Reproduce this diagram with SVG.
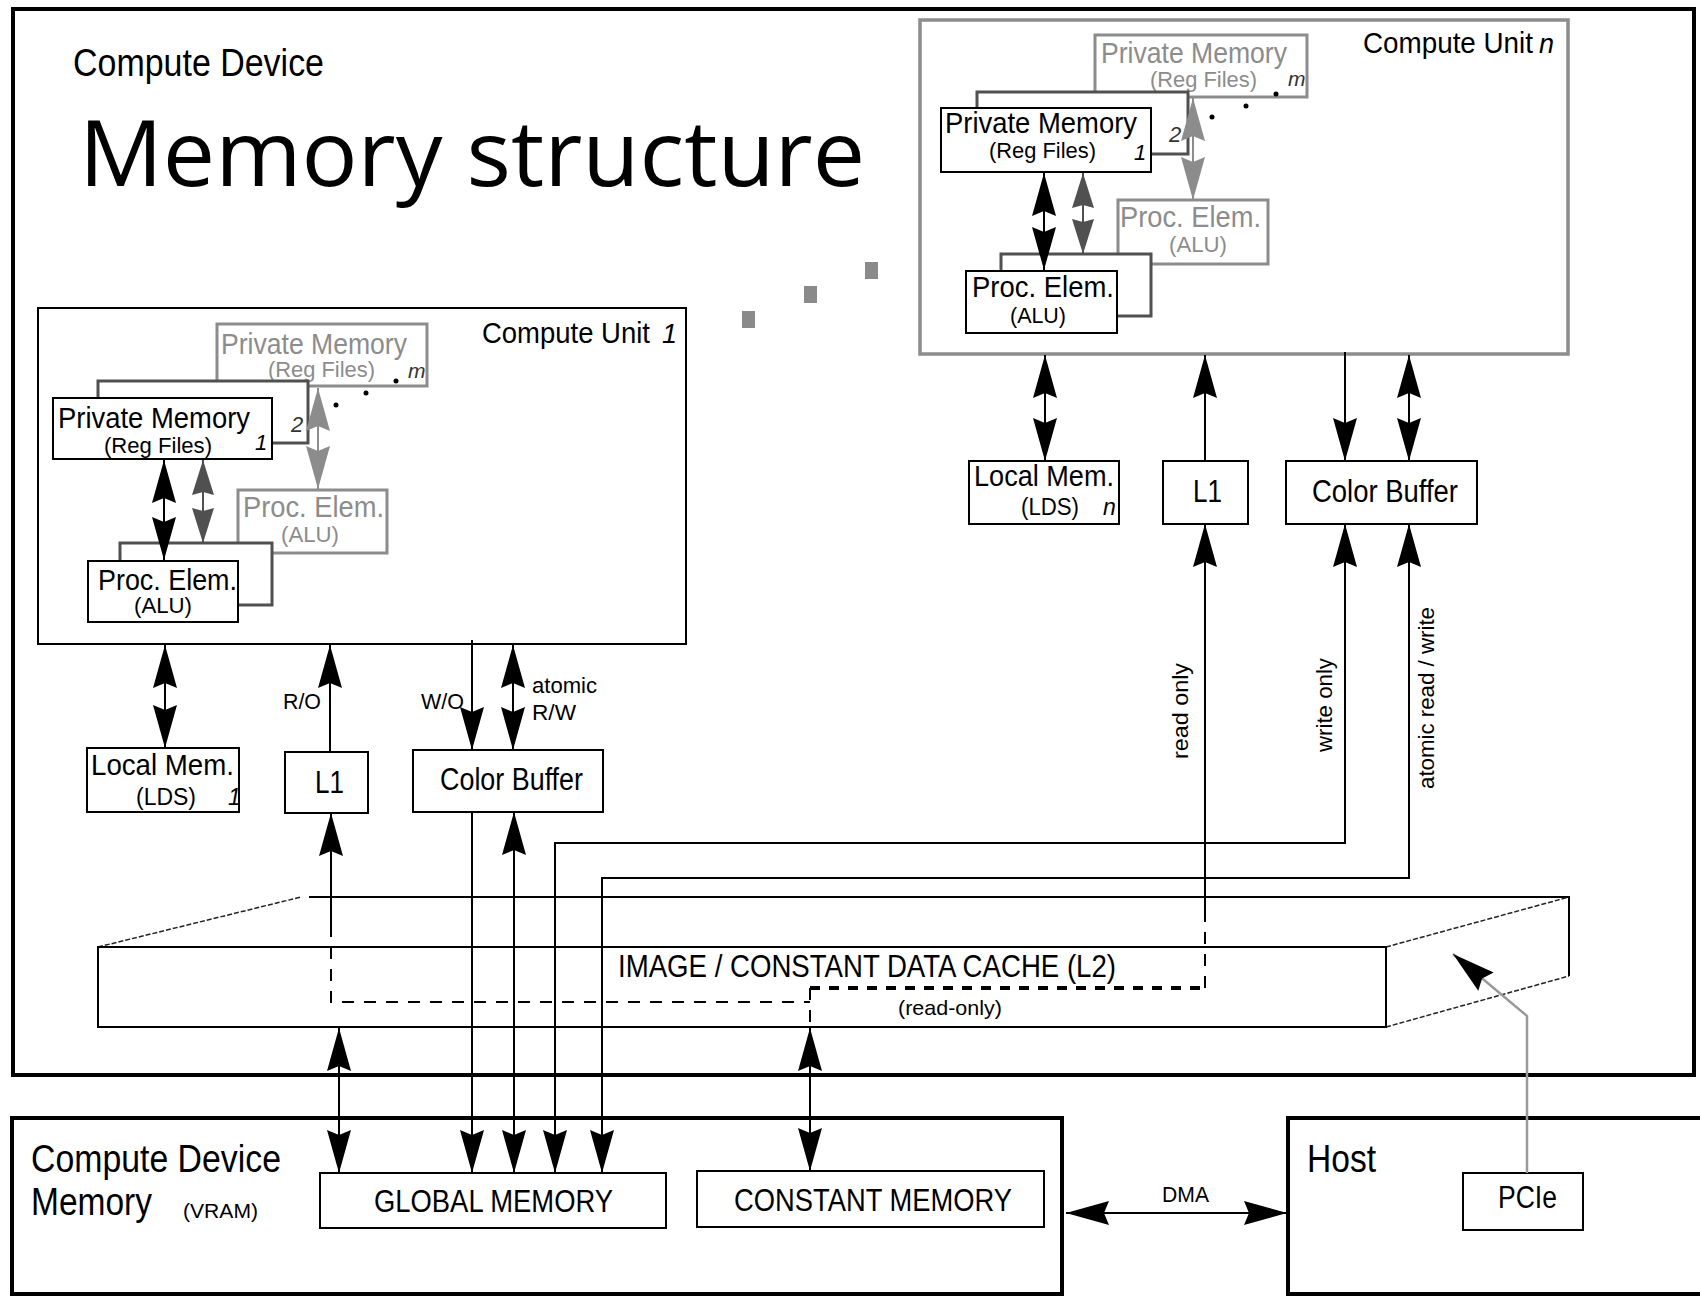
<svg xmlns="http://www.w3.org/2000/svg" width="1700" height="1297" viewBox="0 0 1700 1297">
<defs>
<style>
.t{font-family:"Liberation Sans",Arial,sans-serif;fill:#000}
.i{font-style:italic}
.g{fill:#8c8c8c}
.dk{fill:#333}
.frame{fill:none;stroke:#000;stroke-width:4}
.box{fill:#fff;stroke:#000;stroke-width:2}
.gbox{fill:#fff;stroke:#8c8c8c;stroke-width:3}
.dbox{fill:#fff;stroke:#505050;stroke-width:3}
.ln{fill:none;stroke:#000;stroke-width:2}
.lnd{fill:none;stroke:#505050;stroke-width:2}
.lng{fill:none;stroke:#8c8c8c;stroke-width:2}
.dash{fill:none;stroke:#000;stroke-width:2;stroke-dasharray:12 10}
.tdash{fill:none;stroke:#000;stroke-width:4;stroke-dasharray:10 9}
.fine{fill:none;stroke:#222;stroke-width:1.5;stroke-dasharray:5 2}
.gdot{fill:#8a8a8a}
</style>
<marker id="ah" markerUnits="userSpaceOnUse" viewBox="-44 -13 45 26" refX="0" refY="0" markerWidth="45" markerHeight="26" orient="auto-start-reverse"><path d="M0,0 L-43,-12 L-38,0 L-43,12 Z" fill="#000"/></marker>
<marker id="ahd" markerUnits="userSpaceOnUse" viewBox="-44 -13 45 26" refX="0" refY="0" markerWidth="45" markerHeight="26" orient="auto-start-reverse"><path d="M0,0 L-35,-11 L-32,0 L-35,11 Z" fill="#505050"/></marker>
<marker id="ahg" markerUnits="userSpaceOnUse" viewBox="-44 -13 45 26" refX="0" refY="0" markerWidth="45" markerHeight="26" orient="auto-start-reverse"><path d="M0,0 L-43,-12 L-38,0 L-43,12 Z" fill="#8c8c8c"/></marker>
</defs>
<rect width="1700" height="1297" fill="#fff"/>

<g id="compute-device">
<rect class="frame" x="13" y="9" width="1681" height="1066"/>
<text class="t" x="73" y="76" font-size="38" textLength="251" lengthAdjust="spacingAndGlyphs">Compute Device</text>
<text x="79" y="186" font-family="'Open Sans','Noto Sans',sans-serif" font-size="92" textLength="786" lengthAdjust="spacingAndGlyphs" fill="#000">Memory structure</text>
</g>

<g id="unit-dots">
<rect class="gdot" x="742" y="311" width="13" height="17"/>
<rect class="gdot" x="804" y="286" width="13" height="17"/>
<rect class="gdot" x="865" y="262" width="13" height="17"/>
</g>

<g id="l2-cache">
<path class="fine" d="M98,947 L301,897"/>
<path class="ln" d="M309,897 H1569 V976"/>
<path class="fine" d="M1386,947 L1569,897 M1386,1027 L1569,976"/>
<rect class="box" x="98" y="947" width="1288" height="80" fill="none"/>
<text class="t" x="618" y="977" font-size="31" textLength="498" lengthAdjust="spacingAndGlyphs">IMAGE / CONSTANT DATA CACHE (L2)</text>
<text class="t" x="898" y="1015" font-size="21" textLength="104" lengthAdjust="spacingAndGlyphs">(read-only)</text>
</g>

<g id="compute-unit-1">
<rect class="box" x="38" y="308" width="648" height="336" fill="none"/>
<text class="t" x="482" y="343" font-size="29" textLength="168" lengthAdjust="spacingAndGlyphs">Compute Unit</text>
<text class="t i" x="662" y="343" font-size="27">1</text>
<g id="cu1-private-memory-m">
<rect class="gbox" x="217" y="324" width="210" height="62"/>
<text class="t g" x="221" y="354" font-size="29" textLength="186" lengthAdjust="spacingAndGlyphs">Private Memory</text>
<text class="t g" x="268" y="377" font-size="22" textLength="107" lengthAdjust="spacingAndGlyphs">(Reg Files)</text>
<text class="t i dk" x="408" y="378" font-size="21">m</text>
</g>
<g id="cu1-private-memory-2">
<rect class="dbox" x="98" y="381" width="210" height="62"/>
<text class="t i dk" x="291" y="432" font-size="22">2</text>
</g>
<g id="cu1-private-memory-1">
<rect class="box" x="53" y="398" width="219" height="61"/>
<text class="t" x="58" y="428" font-size="29" textLength="192" lengthAdjust="spacingAndGlyphs">Private Memory</text>
<text class="t" x="104" y="453" font-size="22" textLength="108" lengthAdjust="spacingAndGlyphs">(Reg Files)</text>
<text class="t i" x="255" y="450" font-size="22">1</text>
</g>
<circle cx="336" cy="405" r="2.5"/>
<circle cx="366" cy="393" r="2.5"/>
<circle cx="396" cy="381" r="2.5"/>
<g id="cu1-proc-elem-m">
<rect class="gbox" x="238" y="490" width="149" height="63"/>
<text class="t g" x="243" y="517" font-size="29" textLength="141" lengthAdjust="spacingAndGlyphs">Proc. Elem.</text>
<text class="t g" x="281" y="542" font-size="22" textLength="58" lengthAdjust="spacingAndGlyphs">(ALU)</text>
</g>
<g id="cu1-proc-elem-2">
<rect class="dbox" x="120" y="543" width="152" height="62"/>
</g>
<g id="cu1-proc-elem-1">
<rect class="box" x="88" y="561" width="150" height="61"/>
<text class="t" x="98" y="590" font-size="29" textLength="139" lengthAdjust="spacingAndGlyphs">Proc. Elem.</text>
<text class="t" x="134" y="613" font-size="22" textLength="58" lengthAdjust="spacingAndGlyphs">(ALU)</text>
</g>
</g>

<g id="compute-unit-n">
<rect x="920" y="20" width="648" height="334" fill="none" stroke="#8c8c8c" stroke-width="3.5"/>
<text class="t" x="1363" y="53" font-size="29" textLength="170" lengthAdjust="spacingAndGlyphs">Compute Unit</text>
<text class="t i" x="1539" y="53" font-size="27">n</text>
<g id="cun-private-memory-m">
<rect class="gbox" x="1095" y="35" width="212" height="62"/>
<text class="t g" x="1101" y="63" font-size="29" textLength="186" lengthAdjust="spacingAndGlyphs">Private Memory</text>
<text class="t g" x="1150" y="87" font-size="22" textLength="107" lengthAdjust="spacingAndGlyphs">(Reg Files)</text>
<text class="t i dk" x="1288" y="86" font-size="21">m</text>
</g>
<g id="cun-private-memory-2">
<rect class="dbox" x="977" y="92" width="211" height="62"/>
<text class="t i dk" x="1169" y="142" font-size="22">2</text>
</g>
<g id="cun-private-memory-1">
<rect class="box" x="941" y="108" width="210" height="64"/>
<text class="t" x="945" y="133" font-size="29" textLength="192" lengthAdjust="spacingAndGlyphs">Private Memory</text>
<text class="t" x="989" y="158" font-size="22" textLength="107" lengthAdjust="spacingAndGlyphs">(Reg Files)</text>
<text class="t i" x="1134" y="160" font-size="22">1</text>
</g>
<circle cx="1212" cy="117" r="2.5"/>
<circle cx="1246" cy="106" r="2.5"/>
<circle cx="1276" cy="94" r="2.5"/>
<g id="cun-proc-elem-m">
<rect class="gbox" x="1118" y="200" width="150" height="64"/>
<text class="t g" x="1120" y="227" font-size="29" textLength="141" lengthAdjust="spacingAndGlyphs">Proc. Elem.</text>
<text class="t g" x="1169" y="252" font-size="22" textLength="58" lengthAdjust="spacingAndGlyphs">(ALU)</text>
</g>
<g id="cun-proc-elem-2">
<rect class="dbox" x="1001" y="254" width="150" height="62"/>
</g>
<g id="cun-proc-elem-1">
<rect class="box" x="966" y="271" width="151" height="62"/>
<text class="t" x="972" y="297" font-size="29" textLength="142" lengthAdjust="spacingAndGlyphs">Proc. Elem.</text>
<text class="t" x="1010" y="323" font-size="22" textLength="56" lengthAdjust="spacingAndGlyphs">(ALU)</text>
</g>
</g>

<g id="local-mem-1">
<rect class="box" x="87" y="748" width="152" height="64"/>
<text class="t" x="91" y="775" font-size="30" textLength="143" lengthAdjust="spacingAndGlyphs">Local Mem.</text>
<text class="t" x="136" y="805" font-size="23" textLength="60" lengthAdjust="spacingAndGlyphs">(LDS)</text>
<text class="t i" x="228" y="805" font-size="23">1</text>
</g>
<g id="l1-1">
<rect class="box" x="285" y="752" width="83" height="61"/>
<text class="t" x="315" y="793" font-size="31" textLength="29" lengthAdjust="spacingAndGlyphs">L1</text>
</g>
<g id="color-buffer-1">
<rect class="box" x="413" y="750" width="190" height="62"/>
<text class="t" x="440" y="790" font-size="31" textLength="143" lengthAdjust="spacingAndGlyphs">Color Buffer</text>
</g>
<g id="local-mem-n">
<rect class="box" x="969" y="461" width="150" height="63"/>
<text class="t" x="974" y="486" font-size="30" textLength="140" lengthAdjust="spacingAndGlyphs">Local Mem.</text>
<text class="t" x="1021" y="515" font-size="23" textLength="58" lengthAdjust="spacingAndGlyphs">(LDS)</text>
<text class="t i" x="1103" y="515" font-size="23">n</text>
</g>
<g id="l1-n">
<rect class="box" x="1163" y="461" width="85" height="63"/>
<text class="t" x="1193" y="502" font-size="31" textLength="29" lengthAdjust="spacingAndGlyphs">L1</text>
</g>
<g id="color-buffer-n">
<rect class="box" x="1286" y="461" width="191" height="63"/>
<text class="t" x="1312" y="502" font-size="31" textLength="146" lengthAdjust="spacingAndGlyphs">Color Buffer</text>
</g>

<g id="compute-device-memory">
<rect class="frame" x="12" y="1118" width="1050" height="176"/>
<text class="t" x="31" y="1172" font-size="38" textLength="250" lengthAdjust="spacingAndGlyphs">Compute Device</text>
<text class="t" x="31" y="1215" font-size="38" textLength="121" lengthAdjust="spacingAndGlyphs">Memory</text>
<text class="t" x="183" y="1218" font-size="21" textLength="75" lengthAdjust="spacingAndGlyphs">(VRAM)</text>
</g>
<g id="global-memory">
<rect class="box" x="320" y="1173" width="346" height="55"/>
<text class="t" x="374" y="1212" font-size="31" textLength="239" lengthAdjust="spacingAndGlyphs">GLOBAL MEMORY</text>
</g>
<g id="constant-memory">
<rect class="box" x="697" y="1171" width="347" height="56"/>
<text class="t" x="734" y="1211" font-size="31" textLength="278" lengthAdjust="spacingAndGlyphs">CONSTANT MEMORY</text>
</g>
<g id="host">
<rect class="frame" x="1288" y="1118" width="420" height="176"/>
<text class="t" x="1307" y="1172" font-size="38" textLength="69" lengthAdjust="spacingAndGlyphs">Host</text>
</g>
<g id="pcie">
<rect class="box" x="1463" y="1173" width="120" height="57"/>
<text class="t" x="1498" y="1208" font-size="31" textLength="59" lengthAdjust="spacingAndGlyphs">PCIe</text>
</g>

<g id="connectors">
<path class="ln" d="M164,460 V560" marker-start="url(#ah)" marker-end="url(#ah)"/>
<path class="lnd" d="M203,460 V543" marker-start="url(#ahd)" marker-end="url(#ahd)"/>
<path class="lng" d="M318,388 V489" marker-start="url(#ahg)" marker-end="url(#ahg)"/>
<path class="ln" d="M1044,173 V270" marker-start="url(#ah)" marker-end="url(#ah)"/>
<path class="lnd" d="M1083,173 V254" marker-start="url(#ahd)" marker-end="url(#ahd)"/>
<path class="lng" d="M1193,98 V200" marker-start="url(#ahg)" marker-end="url(#ahg)"/>

<path class="ln" d="M165,645 V748" marker-start="url(#ah)" marker-end="url(#ah)"/>
<path class="ln" d="M330,752 V645" marker-end="url(#ah)"/>
<path class="ln" d="M472,640 V750" marker-end="url(#ah)"/>
<path class="ln" d="M513,645 V750" marker-start="url(#ah)" marker-end="url(#ah)"/>
<text class="t" x="283" y="709" font-size="22" textLength="38" lengthAdjust="spacingAndGlyphs">R/O</text>
<text class="t" x="421" y="709" font-size="22" textLength="43" lengthAdjust="spacingAndGlyphs">W/O</text>
<text class="t" x="532" y="693" font-size="22" textLength="65" lengthAdjust="spacingAndGlyphs">atomic</text>
<text class="t" x="532" y="720" font-size="22" textLength="44" lengthAdjust="spacingAndGlyphs">R/W</text>

<path class="ln" d="M1045,355 V461" marker-start="url(#ah)" marker-end="url(#ah)"/>
<path class="ln" d="M1205,461 V355" marker-end="url(#ah)"/>
<path class="ln" d="M1345,352 V461" marker-end="url(#ah)"/>
<path class="ln" d="M1409,355 V461" marker-start="url(#ah)" marker-end="url(#ah)"/>

<path class="ln" d="M472,812 V1173" marker-end="url(#ah)"/>
<path class="ln" d="M514,812 V1173" marker-start="url(#ah)" marker-end="url(#ah)"/>
<path class="ln" d="M1345,524 V843 H555 V1173" marker-start="url(#ah)" marker-end="url(#ah)"/>
<path class="ln" d="M1409,524 V878 H602 V1173" marker-start="url(#ah)" marker-end="url(#ah)"/>
<path class="ln" d="M1205,922 V524" marker-end="url(#ah)"/>
<text class="t" transform="translate(1188,711) rotate(-90)" text-anchor="middle" font-size="22" textLength="96" lengthAdjust="spacingAndGlyphs">read only</text>
<text class="t" transform="translate(1332,705) rotate(-90)" text-anchor="middle" font-size="22" textLength="94" lengthAdjust="spacingAndGlyphs">write only</text>
<text class="t" transform="translate(1434,698) rotate(-90)" text-anchor="middle" font-size="22" textLength="182" lengthAdjust="spacingAndGlyphs">atomic read / write</text>

<path class="ln" d="M331,925 V813" marker-end="url(#ah)"/>
<path class="dash" d="M331,925 V1002 H810"/>
<path class="dash" d="M810,988 V1028"/>
<path class="tdash" d="M810,988 H1205"/>
<path class="dash" d="M1205,988 V922"/>
<path class="ln" d="M339,1028 V1173" marker-start="url(#ah)" marker-end="url(#ah)"/>
<path class="ln" d="M810,1028 V1171" marker-start="url(#ah)" marker-end="url(#ah)"/>

<path class="ln" d="M1066,1213 H1287" marker-start="url(#ah)" marker-end="url(#ah)"/>
<text class="t" x="1162" y="1202" font-size="22" textLength="47" lengthAdjust="spacingAndGlyphs">DMA</text>
<path d="M1527,1173 V1016 L1453,954" fill="none" stroke="#999" stroke-width="2.5" marker-end="url(#ah)"/>
</g>
</svg>
